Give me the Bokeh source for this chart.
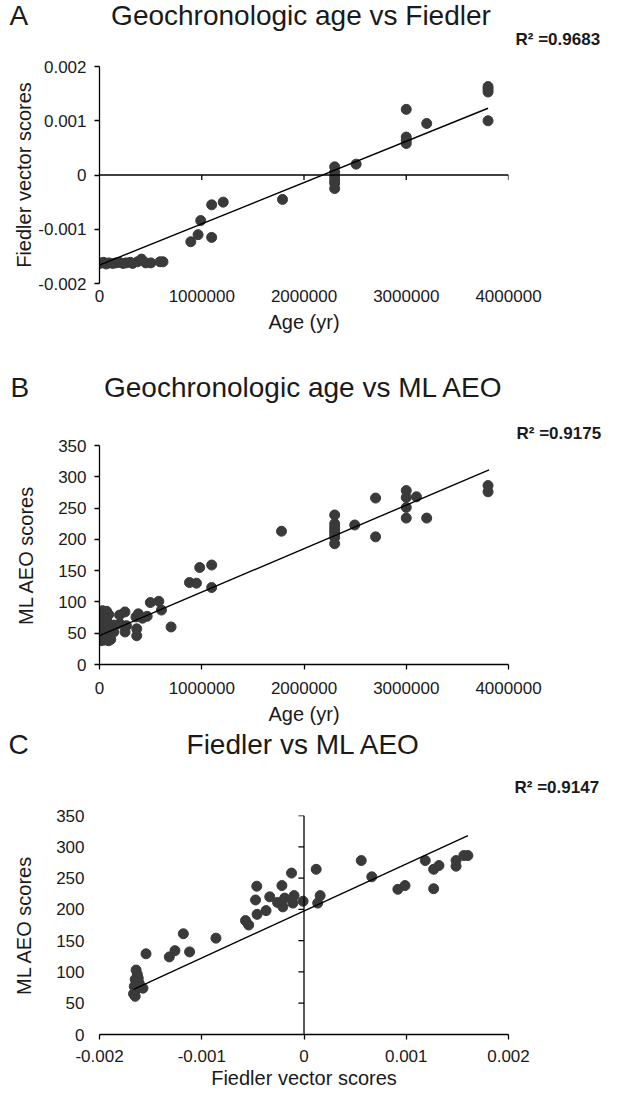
from bokeh.plotting import figure
from bokeh.layouts import column
from bokeh.models import Label, Span, FixedTicker, Range1d
from bokeh.embed import file_html
from bokeh.resources import INLINE

# ---------------- data ----------------
# Panel A: geochronologic age vs Fiedler vector score
a_age = [0, 20000, 40000, 65000, 90000, 130000, 160000, 194000, 230000, 259000,
         300000, 324000, 372000, 411000, 453000, 502000, 592000, 621000,
         893000, 964000, 990000, 1097000, 1097000, 1210000, 1790000,
         2300000, 2300000, 2300000, 2300000, 2300000, 2300000, 2510000,
         3000000, 3000000, 3000000, 3000000, 3200000,
         3800000, 3800000, 3800000, 3800000]
a_fiedler = [-0.00163, -0.00162, -0.00161, -0.00164, -0.00162, -0.00163, -0.00162, -0.00161, -0.00163, -0.00162,
             -0.00161, -0.00163, -0.00160, -0.00155, -0.00162, -0.00162, -0.00160, -0.00160,
             -0.00123, -0.00110, -0.00084, -0.00115, -0.00055, -0.00050, -0.00045,
             0.00015, 0.00005, -0.00003, -0.00010, -0.00015, -0.00025, 0.00020,
             0.00121, 0.00070, 0.00064, 0.00058, 0.00095,
             0.00163, 0.00158, 0.00153, 0.00100]
a_fit_x = [0, 3800000]
a_fit_y = [-0.00166, 0.00123]
a_r2 = "R\u00b2 =0.9683"

# Panel B: geochronologic age vs ML AEO score
b_age = [0, 0, 0, 0, 0, 0, 0, 0, 0,
         15000, 15000, 15000, 15000, 15000,
         30000, 30000, 30000, 30000, 30000, 30000,
         50000, 50000, 50000, 50000, 50000,
         70000, 70000, 70000, 70000, 70000,
         90000, 90000, 90000, 90000, 90000,
         110000, 110000, 140000, 140000,
         196000, 249000, 200000, 250000, 264000, 357000, 364000, 364000, 380000, 420000,
         466000, 497000, 580000, 606000, 700000, 880000, 948000, 980000, 1097000, 1097000,
         1780000, 2300000, 2300000, 2300000, 2300000, 2300000, 2300000, 2300000,
         2496000, 2700000, 2700000, 3000000, 3000000, 3000000, 3000000,
         3100000, 3200000, 3800000, 3800000]
b_aeo = [40, 45, 50, 55, 60, 65, 70, 75, 80,
         38, 48, 58, 72, 84,
         42, 52, 62, 67, 77, 86,
         39, 46, 56, 70, 82,
         41, 50, 60, 74, 85,
         38, 47, 55, 65, 80,
         40, 58, 52, 63,
         79, 84, 65, 52, 62, 76, 57, 46, 81, 74,
         77, 99, 101, 87, 60, 131, 130, 155, 159, 123,
         213, 239, 225, 219, 214, 209, 203, 193,
         223, 266, 204, 278, 267, 251, 234,
         268, 234, 286, 276]
b_fit_x = [0, 3810000]
b_fit_y = [46, 311]
b_r2 = "R\u00b2 =0.9175"

# Panel C: Fiedler vector score vs ML AEO score
c_fiedler = [-0.001642, -0.00163, -0.001651, -0.001621, -0.001642, -0.001612, -0.001667, -0.001651,
             -0.001636, -0.001575, -0.001606, -0.00166,
             -0.001545, -0.001317, -0.001262, -0.00118, -0.001119, -0.000861,
             -0.000572, -0.000541, -0.000462, -0.000474, -0.000459, -0.000371, -0.000335,
             -0.000259, -0.000216, -0.000207, -0.000189, -0.000122, -0.000109, -0.000097,
             -0.000009, 0.000119, 0.000134, 0.000158, 0.00056, 0.000663, 0.000918, 0.000988,
             0.001186, 0.001268, 0.00132, 0.001268, 0.001487, 0.001487, 0.001563, 0.001603]
c_aeo = [103, 96, 88, 90, 80, 82, 65, 61,
         72, 74, 77, 77,
         129, 124, 134, 161, 132, 154,
         182, 175, 237, 215, 192, 198, 220,
         211, 238, 204, 218, 258, 210, 222,
         213, 264, 210, 222, 278, 252, 232, 238,
         278, 264, 270, 233, 278, 269, 286, 286]
c_fit_x = [-0.001667, 0.001603]
c_fit_y = [72, 318]
c_r2 = "R\u00b2 =0.9147"

# panel letters and titles
letters = ["A", "B", "C"]
titles = ["Geochronologic age vs Fiedler", "Geochronologic age vs ML AEO", "Fiedler vs ML AEO"]

# tick values and labels
age_ticks = [0, 1000000, 2000000, 3000000, 4000000]
age_labels = ["0", "1000000", "2000000", "3000000", "4000000"]
fiedler_ticks = [-0.002, -0.001, 0, 0.001, 0.002]
fiedler_labels = ["-0.002", "-0.001", "0", "0.001", "0.002"]
aeo_ticks = [0, 50, 100, 150, 200, 250, 300, 350]
aeo_labels = ["0", "50", "100", "150", "200", "250", "300", "350"]

# ---------------- style ----------------
FONT = "Liberation Sans"
DOT = "#3a3a3a"
TXT = "#1a1a1a"
W = 605


def make_fig(h, xr, yr, bl, br, bt, bb):
    p = figure(width=W, height=h, x_range=Range1d(*xr), y_range=Range1d(*yr),
               output_backend="svg", toolbar_location=None,
               min_border_left=bl, min_border_right=br,
               min_border_top=bt, min_border_bottom=bb)
    p.outline_line_color = None
    p.xgrid.visible = False
    p.ygrid.visible = False
    p.background_fill_color = "white"
    p.border_fill_color = "white"
    return p


def style_axis(ax, ticks, labels, title, tick_out=5, line=True, standoff=4, title_standoff=8):
    ax.ticker = FixedTicker(ticks=ticks)
    ax.major_label_overrides = {t: l for t, l in zip(ticks, labels)}
    ax.minor_tick_line_color = None
    ax.major_tick_in = 0
    ax.major_tick_out = tick_out
    ax.major_tick_line_color = "black" if tick_out else None
    ax.major_tick_line_width = 1.3
    ax.axis_line_color = "black" if line else None
    ax.axis_line_width = 1.3
    ax.major_label_text_font = FONT
    ax.major_label_text_font_size = "17px"
    ax.major_label_text_color = TXT
    ax.major_label_standoff = standoff
    ax.axis_label = title
    ax.axis_label_text_font = FONT
    ax.axis_label_text_font_size = "20px"
    ax.axis_label_text_font_style = "normal"
    ax.axis_label_text_color = TXT
    ax.axis_label_standoff = title_standoff


def add_texts(p, letter, title, r2, x0, xmid, ytop, letter_dx, title_dx, title_dy,
              r2_dx, r2_dy, r2_side="above"):
    # texts live in side panels so that they are not clipped to the plot frame;
    # positions come from the frame's own scales plus pixel offsets
    p.add_layout(Label(x=x0, y=ytop, x_offset=letter_dx, y_offset=title_dy, text=letter,
                       text_font=FONT, text_font_size="28px", text_color=TXT,
                       text_align="left", text_baseline="middle"), "above")
    p.add_layout(Label(x=xmid, y=ytop, x_offset=title_dx, y_offset=title_dy, text=title,
                       text_font=FONT, text_font_size="28px", text_color=TXT,
                       text_align="center", text_baseline="middle"), "above")
    p.add_layout(Label(x=x0, y=ytop, x_offset=r2_dx, y_offset=r2_dy, text=r2,
                       text_font=FONT, text_font_size="17px", text_font_style="bold",
                       text_color=TXT, text_align="left", text_baseline="middle"), r2_side)


# ---------------- panel A ----------------
# canvas spans page y 8..364; frame 74..291
pa = make_fig(356, (0, 4000000), (-0.002, 0.002), 98, 97, 66, 73)
style_axis(pa.yaxis[0], fiedler_ticks, fiedler_labels, "Fiedler vector scores",
           standoff=8, title_standoff=0)
style_axis(pa.xaxis[0], age_ticks, age_labels, "Age (yr)", tick_out=0, line=False,
           standoff=6, title_standoff=6)
pa.add_layout(Span(location=0, dimension="width", line_color="black", line_width=1.3))
tick_len_a = 0.004 / 217 * 5
pa.segment(x0=age_ticks[1:], y0=[0] * 4, x1=age_ticks[1:], y1=[-tick_len_a] * 4,
           line_color="black", line_width=1.3)
pa.scatter(a_age, a_fiedler, size=10, color=DOT)
pa.line(a_fit_x, a_fit_y, line_color="black", line_width=1.4)
add_texts(pa, letters[0], titles[0], a_r2, 0, 2000000, 0.002, -90, -3, 51, 416, 27, r2_side="below")

# ---------------- panel B ----------------
# canvas spans page y 364..737; frame 453..672
pb = make_fig(373, (0, 4000000), (0, 350), 97, 79, 89, 65)
style_axis(pb.yaxis[0], aeo_ticks, aeo_labels, "ML AEO scores", standoff=8, title_standoff=18)
style_axis(pb.xaxis[0], age_ticks, age_labels, "Age (yr)", standoff=12, title_standoff=6)
pb.scatter(b_age, b_aeo, size=10, color=DOT)
pb.line(b_fit_x, b_fit_y, line_color="black", line_width=1.4)
add_texts(pb, letters[1], titles[1], b_r2, 0, 2000000, 350, -89, 0, 58, 417, 12)

# ---------------- panel C ----------------
# canvas spans page y 737..1103; frame 823..1042
pc = make_fig(366, (-0.002, 0.002), (0, 350), 99, 68, 86, 61)
style_axis(pc.yaxis[0], aeo_ticks, aeo_labels, "ML AEO scores", tick_out=0, line=False,
           standoff=15, title_standoff=18)
style_axis(pc.xaxis[0], fiedler_ticks, fiedler_labels, "Fiedler vector scores",
           standoff=10, title_standoff=2)
pc.add_layout(Span(location=0, dimension="height", line_color="black", line_width=1.3))
tick_len_c = 0.004 / 438 * 6
pc.segment(x0=[-tick_len_c] * (len(aeo_ticks) - 1), y0=aeo_ticks[1:],
           x1=[0] * (len(aeo_ticks) - 1), y1=aeo_ticks[1:], line_color="black", line_width=1.3)
pc.scatter(c_fiedler, c_aeo, size=10, color=DOT)
pc.line(c_fit_x, c_fit_y, line_color="black", line_width=1.4)
add_texts(pc, letters[2], titles[2], c_r2, -0.002, 0, 350, -91, 0, 71, 415, 28)

layout = column(pa, pb, pc, spacing=0)
open("out.html", "w").write(file_html(layout, INLINE))
